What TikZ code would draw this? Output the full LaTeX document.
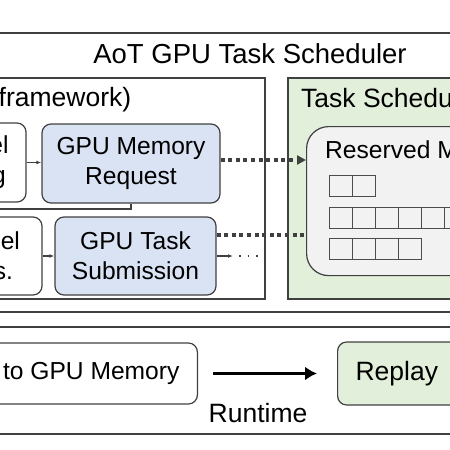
\documentclass[tikz,border=0pt]{standalone}
\usepackage{fontspec}
\setmainfont{Liberation Sans}
\usepackage{xcolor}
\usetikzlibrary{arrows.meta, positioning}

\definecolor{reqblue}{RGB}{218,227,243}
\definecolor{schedgreen}{RGB}{226,239,218}
\definecolor{memgray}{RGB}{242,242,242}
\definecolor{edgegray}{RGB}{64,64,64}

\begin{document}
\begin{tikzpicture}[x=1pt, y=-1pt,
    outerframe/.style={draw=edgegray, line width=1.8pt},
    panel/.style={draw=edgegray, line width=1.3pt},
    opbox/.style={draw=edgegray, line width=1.2pt, rounded corners=9pt, inner sep=0pt, align=center, font=\fontsize{24.6}{30}\selectfont},
    reqbox/.style={opbox, fill=reqblue},
    heading/.style={font=\fontsize{26.5}{30}\selectfont},
    memcell/.style={draw=black!70, line width=1pt},
    dotline/.style={edgegray, line width=3.5pt, dash pattern=on 4pt off 3.6pt},
  ]
    % Visible window
    \useasboundingbox (0,0) rectangle (450,450);

    % Outer frame and its title
    \draw[outerframe] (-10,33) rectangle (460,312);
    \node[font=\fontsize{27.5}{30}\selectfont] (title) at (250,54) {AoT GPU Task Scheduler};

    % Framework panel
    \draw[panel] (-10,78) rectangle (265,299);
    \node[heading, anchor=west, inner sep=0pt] (fwtitle) at (-1.5,100) {framework)};

    % Task scheduler panel
    \draw[panel, fill=schedgreen] (288,78) rectangle (460,299);
    \node[heading, anchor=west, inner sep=0pt] (schedtitle) at (301,98.5) {Task Schedu};

    % Framework operations
    \node[opbox, minimum width=54pt, minimum height=79pt] (launch) at (-1,162.5) {el\\g};
    \node[reqbox, minimum width=178pt, minimum height=79pt] (memreq) at (131,163.5) {GPU Memory\\Request};
    \node[opbox, minimum width=77pt, minimum height=78pt] (submit) at (3.5,256) {nel\\s.};
    \node[reqbox, minimum width=161pt, minimum height=78pt] (tasksub) at (135.5,256) {GPU Task\\Submission};

    \draw[-{Latex[length=5pt]}, line width=1.4pt, edgegray] (launch.east) -- (launch.east -| memreq.west);
    \draw[-{Latex[length=5pt]}, line width=1.4pt, edgegray] (submit.east) -- (submit.east -| tasksub.west);

    % Line leaving the memory request
    \coordinate (memout) at (-10,209);
    \draw[line width=1.8pt, edgegray] (memreq.south) |- (memout);

    % Reserved memory pool
    \node[draw=edgegray, line width=1.2pt, fill=memgray, rounded corners=22pt, minimum width=180pt, minimum height=149pt, anchor=north west] (resv) at (306,126) {};
    \node[anchor=base west, inner sep=0pt, font=\fontsize{24.6}{30}\selectfont] (resvtitle) at (325,158) {Reserved M};
    \foreach \row/\n in {175/2, 207/6, 238/4}
      \foreach \k in {1,...,\n}
        \draw[memcell] ({329+23*(\k-1)},\row) rectangle ++(23,21.5);

    % Requests to the pool
    \coordinate (reqport) at ([yshift=3.5pt]memreq.east);
    \draw[dotline, -{Triangle[length=9pt, width=9pt]}] (reqport) -- (reqport -| resv.west);
    \coordinate (subport) at ([yshift=21pt]tasksub.east);
    \draw[dotline] (subport) -- (subport -| resv.west);

    % Task submission goes on
    \coordinate (subarrow) at (233,256);
    \coordinate (dotstart) at (239,256);
    \coordinate (dotend) at (262,256);
    \draw[-{Latex[length=5pt]}, line width=1.4pt, edgegray] (tasksub.east) -- (subarrow);
    \draw[line width=1.8pt, edgegray, dash pattern=on 1.8pt off 6.7pt] (dotstart) -- (dotend);

    % Runtime panel
    \draw[outerframe] (-10,327) rectangle (460,434);
    \node[opbox, anchor=east, minimum height=61pt, inner xsep=18pt] (gpumem) at (198,373.5) {to GPU Memory};
    \node[opbox, fill=schedgreen, heading, anchor=west, minimum height=63pt, inner xsep=18pt, text width=110pt, align=left] (replay) at (337,373.5) {Replay};
    \draw[-{Latex[length=12pt, width=14pt]}, line width=2.5pt, shorten <=15pt, shorten >=20pt] (gpumem) -- (replay);
    \node[heading] (runtime) at (258,413) {Runtime};
\end{tikzpicture}
\end{document}
